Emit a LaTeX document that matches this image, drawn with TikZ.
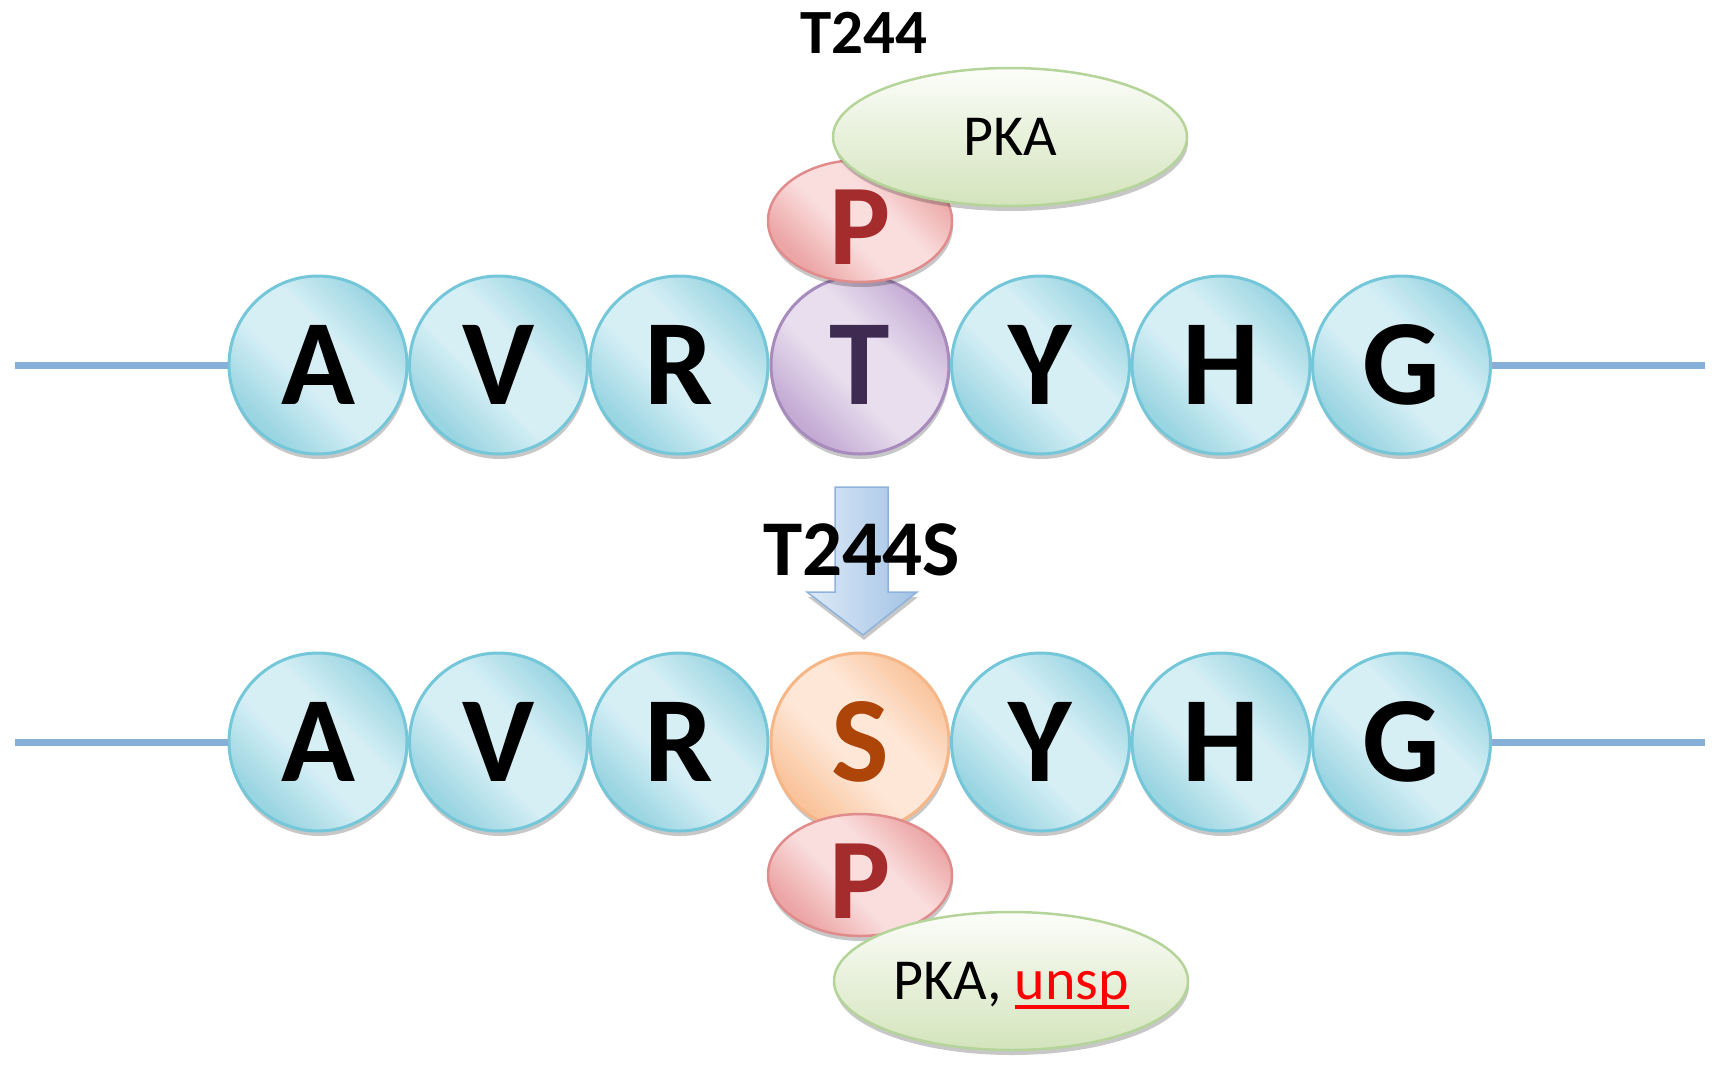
\documentclass[tikz,border=0pt]{standalone}
\usepackage{fontspec}
\setmainfont{Carlito}
\usetikzlibrary{shapes.geometric,shadows}
\definecolor{bluelight}{HTML}{D6EFF5}
\definecolor{bluedark}{HTML}{9AD5E2}
\definecolor{blueedge}{HTML}{74C6D9}
\definecolor{purplelight}{HTML}{E8DEEE}
\definecolor{purpledark}{HTML}{C4ABD4}
\definecolor{purpleedge}{HTML}{A78BBD}
\definecolor{purpletext}{HTML}{3F2A52}
\definecolor{orangelight}{HTML}{FEE7D7}
\definecolor{orangedark}{HTML}{F9C49C}
\definecolor{orangeedge}{HTML}{F7B686}
\definecolor{orangetext}{HTML}{AE4508}
\definecolor{pinklight}{HTML}{FADDDD}
\definecolor{pinkdark}{HTML}{ECA6A6}
\definecolor{pinkedge}{HTML}{E18C8C}
\definecolor{pinktext}{HTML}{A52C2C}
\definecolor{greenlight}{HTML}{FCFDF9}
\definecolor{greendark}{HTML}{D3E4BC}
\definecolor{greenedge}{HTML}{B4D499}
\definecolor{arrowlight}{HTML}{DDEAF7}
\definecolor{arrowdark}{HTML}{A2C2E5}
\definecolor{arrowedge}{HTML}{8EB2DC}
\definecolor{chainline}{HTML}{87B0D8}
\pgfdeclarehorizontalshading{beadblue}{100bp}{color(0bp)=(bluedark); color(27bp)=(bluedark); color(44bp)=(bluelight); color(58bp)=(bluelight); color(75bp)=(bluedark); color(100bp)=(bluedark)}
\pgfdeclarehorizontalshading{beadpurple}{100bp}{color(0bp)=(purpledark); color(27bp)=(purpledark); color(44bp)=(purplelight); color(58bp)=(purplelight); color(75bp)=(purpledark); color(100bp)=(purpledark)}
\pgfdeclarehorizontalshading{beadorange}{100bp}{color(0bp)=(orangedark); color(27bp)=(orangedark); color(44bp)=(orangelight); color(58bp)=(orangelight); color(75bp)=(orangedark); color(100bp)=(orangedark)}
\pgfdeclarehorizontalshading{beadpink}{100bp}{color(0bp)=(pinkdark); color(27bp)=(pinkdark); color(44bp)=(pinklight); color(58bp)=(pinklight); color(75bp)=(pinkdark); color(100bp)=(pinkdark)}
\newcommand\redul[1]{\setbox0\hbox{#1}\rlap{\color{red}\rule[-9pt]{\wd0}{3.5pt}}\box0}
\tikzset{
  softshadow/.style={drop shadow={shadow xshift=1pt, shadow yshift=-5pt, opacity=0.22, fill=black}},
  bead/.style={circle, minimum size=178pt, inner sep=0pt, line width=3pt, shading angle=45,
    font=\fontsize{122}{122}\selectfont\bfseries, softshadow},
  bluebead/.style={bead, shading=beadblue, draw=blueedge, text=black},
  purplebead/.style={bead, shading=beadpurple, draw=purpleedge, text=purpletext},
  orangebead/.style={bead, shading=beadorange, draw=orangeedge, text=orangetext},
  phos/.style={ellipse, minimum width=184pt, minimum height=122pt, inner sep=0pt, line width=2.5pt,
    shading=beadpink, shading angle=45, draw=pinkedge, text=pinktext,
    text height=86pt, text depth=0pt,
    font=\fontsize{115}{115}\selectfont\bfseries, softshadow},
  kinase/.style={ellipse, minimum width=354pt, minimum height=138pt, inner sep=0pt, line width=2.5pt,
    top color=greenlight, bottom color=greendark, draw=greenedge, text=black, text depth=0pt,
    font=\fontsize{58}{58}\selectfont, softshadow},
  chain/.style={draw=chainline, line width=7pt},
  sitelabel/.style={inner sep=0pt, text depth=0pt, font=\bfseries},
}
\begin{document}
\begin{tikzpicture}[x=1pt,y=-1pt]
\useasboundingbox (0,0) rectangle (1719,1069);
% mutation arrow
\path[draw=arrowedge, line width=1.5pt, left color=arrowlight, right color=arrowdark, softshadow]
  (835,487) -- (888,487) -- (888,592) -- (917,592) -- (863,635) -- (807,592) -- (835,592) -- cycle;
\coordinate (arrowtip) at (863,635);
% top chain
\coordinate (l1) at (15,365);
\coordinate (r1) at (1705,365);
\node[bluebead] (A1) at (318,365) {A};
\node[bluebead] (V1) at (498.5,365) {V};
\node[bluebead] (R1) at (679,365) {R};
\node[purplebead] (T1) at (860,365) {T};
\node[bluebead] (Y1) at (1040.5,365) {Y};
\node[bluebead] (H1) at (1221,365) {H};
\node[bluebead] (G1) at (1401.5,365) {G};
\draw[chain] (l1) -- (A1);
\draw[chain] (G1) -- (r1);
\node[phos] (P1) at (860,221) {P};
\node[kinase] (K1) at (1010,137) {PKA};
\node[sitelabel, font=\fontsize{63}{63}\selectfont\bfseries] (L1) at (864,33) {T244};
\node[sitelabel, font=\fontsize{79}{79}\selectfont\bfseries] (L2) at (862,550) {T244S};
% bottom chain
\coordinate (l2) at (15,742);
\coordinate (r2) at (1705,742);
\node[bluebead] (A2) at (318,742) {A};
\node[bluebead] (V2) at (498.5,742) {V};
\node[bluebead] (R2) at (679,742) {R};
\node[orangebead] (S2) at (860,742) {S};
\node[bluebead] (Y2) at (1040.5,742) {Y};
\node[bluebead] (H2) at (1221,742) {H};
\node[bluebead] (G2) at (1401.5,742) {G};
\draw[chain] (l2) -- (A2);
\draw[chain] (G2) -- (r2);
\node[phos] (P2) at (860,875) {P};
\node[kinase] (K2) at (1011,981) {PKA, \redul{\textcolor{red}{unsp}}};
\end{tikzpicture}
\end{document}
